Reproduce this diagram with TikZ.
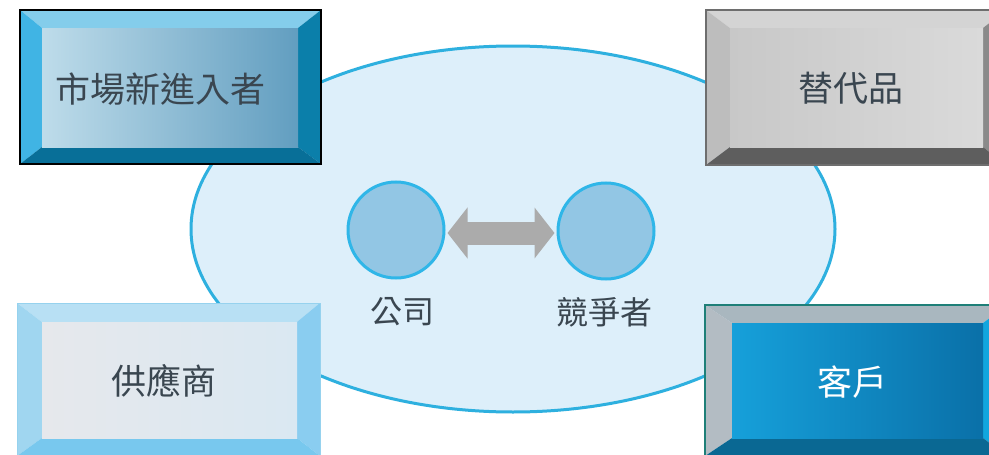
\documentclass[tikz,border=0pt]{standalone}
\usepackage{fontspec}
\newfontfamily\cjk{Noto Sans CJK TC}
\usetikzlibrary{shapes.geometric,arrows.meta}
\definecolor{ellfill}{HTML}{DDEFFA}
\definecolor{elldraw}{HTML}{2EB0DF}
\definecolor{circfill}{HTML}{92C6E4}
\definecolor{circdraw}{HTML}{2FB6E8}
\definecolor{arrowgray}{HTML}{ABABAB}
\definecolor{txtdark}{HTML}{3A4650}
% top-left
\definecolor{tlTop}{RGB}{132,205,235}
\definecolor{tlLeft}{RGB}{64,180,228}
\definecolor{tlRight}{RGB}{11,127,170}
\definecolor{tlBot}{RGB}{8,111,152}
\definecolor{tlInA}{RGB}{190,220,234}
\definecolor{tlInB}{RGB}{98,158,192}
% top-right
\definecolor{trTop}{RGB}{212,212,212}
\definecolor{trLeft}{RGB}{189,189,189}
\definecolor{trRight}{RGB}{138,138,138}
\definecolor{trBot}{RGB}{94,94,94}
\definecolor{trInA}{RGB}{200,200,200}
\definecolor{trInB}{RGB}{218,218,218}
\definecolor{trBorder}{RGB}{110,110,110}
% bottom-left
\definecolor{blTop}{RGB}{184,224,244}
\definecolor{blLeft}{RGB}{160,214,240}
\definecolor{blRight}{RGB}{138,205,240}
\definecolor{blBot}{RGB}{120,200,238}
\definecolor{blInA}{RGB}{230,232,236}
\definecolor{blInB}{RGB}{218,232,242}
\definecolor{blBorder}{RGB}{150,210,238}
% bottom-right
\definecolor{brTop}{RGB}{169,183,191}
\definecolor{brLeft}{RGB}{179,188,195}
\definecolor{brRight}{RGB}{18,166,222}
\definecolor{brBot}{RGB}{10,104,147}
\definecolor{brInA}{RGB}{22,160,218}
\definecolor{brInB}{RGB}{10,112,168}
\definecolor{brBorder}{RGB}{30,127,120}
\newcommand\bevel[9]{%
  \fill[#9Top] (#1,#2) -- (#3,#2) -- (#7,#6) -- (#5,#6) -- cycle;
  \fill[#9Left] (#1,#2) -- (#5,#6) -- (#5,#8) -- (#1,#4) -- cycle;
  \fill[#9Right] (#3,#2) -- (#7,#6) -- (#7,#8) -- (#3,#4) -- cycle;
  \fill[#9Bot] (#1,#4) -- (#5,#8) -- (#7,#8) -- (#3,#4) -- cycle;
  \shade[left color=#9InA, right color=#9InB] (#5,#6) rectangle (#7,#8);
}
\tikzset{
  boxtext/.style={font=\cjk\fontsize{35}{40}\selectfont, text=txtdark, inner sep=0pt},
  smalltext/.style={font=\cjk\fontsize{32}{36}\selectfont, text=txtdark, inner sep=0pt},
  firm/.style={circle, minimum size=96pt, inner sep=0pt, fill=circfill, draw=circdraw, line width=3pt},
}
\begin{document}
\begin{tikzpicture}[x=1pt,y=-1pt]
\useasboundingbox (0,0) rectangle (989,455);
\clip (0,0) rectangle (989,455);
\fill[white] (0,0) rectangle (989,455);
% central ellipse
\node[ellipse, minimum width=644pt, minimum height=366pt, fill=ellfill, draw=elldraw, line width=3pt] (market) at (513,229) {};
% top-left box
\bevel{20}{10}{321}{164}{42}{28}{298}{147}{tl}
\draw[black, line width=2pt] (20,10) rectangle (321,164);
\node[boxtext] (entrant) at (161,89) {市場新進入者};
% top-right box
\bevel{706}{10}{1006}{165}{730}{28}{983}{147}{tr}
\draw[trBorder, line width=1.5pt] (706,10) rectangle (1006,165);
\node[boxtext] (subst) at (851,88) {替代品};
% bottom-left box
\bevel{17}{303}{320}{456}{42}{322}{297}{438}{bl}
\draw[blBorder, line width=1pt] (17,303) rectangle (320,456);
\node[boxtext] (supplier) at (164,381) {供應商};
% bottom-right box
\bevel{705}{305}{1007}{456}{732}{323}{983}{438}{br}
\draw[brBorder, line width=2pt] (705,305) rectangle (1007,456);
\node[boxtext, text=white] (customer) at (852,382) {客戶};
% firms
\node[firm] (company) at (396,230) {};
\node[firm] (rival) at (606,231) {};
\draw[arrowgray, line width=23pt, {Triangle[width=50pt,length=20pt]}-{Triangle[width=50pt,length=20pt]}, shorten <=2pt, shorten >=2pt] (company.east |- 0,233) -- (rival.west |- 0,233);
\node[smalltext] (companylabel) at (402,312) {公司};
\node[smalltext] (rivallabel) at (604,312) {競爭者};
\end{tikzpicture}
\end{document}
